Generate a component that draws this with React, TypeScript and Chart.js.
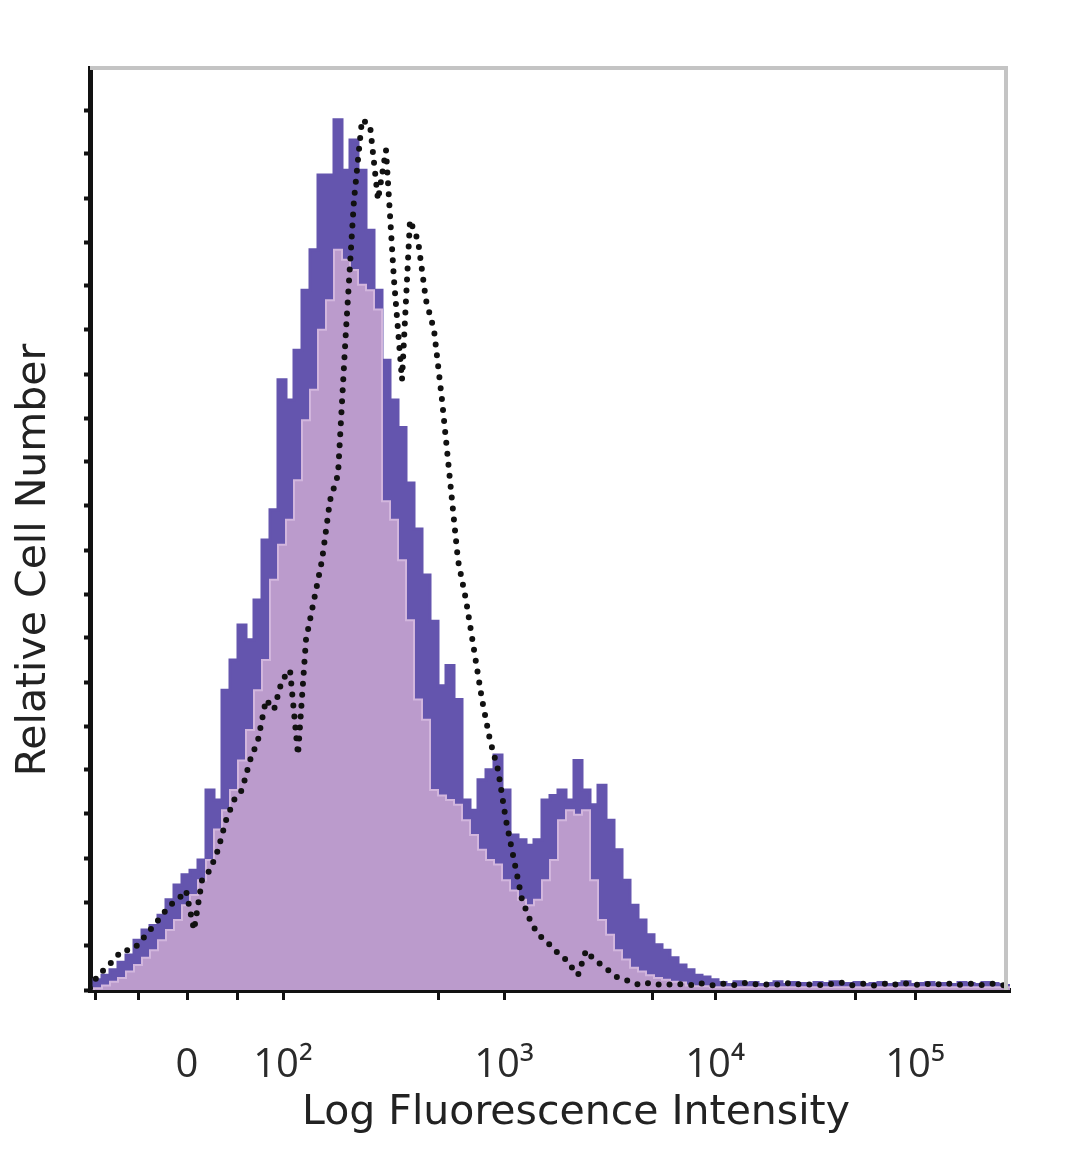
import React, { useEffect, useRef } from 'react';
import { Chart, registerables } from 'chart.js';

Chart.register(...registerables);

// Channel positions of histogram bins (display channels)
const channels = [
  0, 2, 4, 6, 8, 10, 12, 14, 16, 18,
  20, 22, 24, 26, 28, 30, 32, 34, 36, 38,
  40, 42, 44, 46, 48, 50, 52, 54, 56, 58,
  60, 62, 64, 66, 68, 70, 72, 74, 76, 78,
  80, 82, 84, 86, 88, 90, 92, 94, 96, 98,
  100, 102, 104, 106, 108, 110, 112, 114, 116, 118,
  120, 122, 124, 126, 128, 130, 132, 134, 136, 138,
  140, 142, 144, 146, 148, 150, 152, 154, 156, 158,
  160, 162, 164, 166, 168, 170, 172, 174, 176, 178,
  180, 182, 184, 186, 188, 190, 192, 194, 196, 198,
  200, 202, 204, 206, 208, 210, 212, 214, 216, 218,
  220, 222, 224, 226, 228, 230,
];

// Stained sample – outer (dark purple) outline
const stainedOuter = [
  0.2, 1.1, 1.6, 2.2, 3.0, 3.8, 5.4, 6.5, 7.0, 8.1,
  9.8, 11.4, 12.5, 13.0, 14.1, 21.7, 20.6, 32.5, 35.8, 39.6,
  38.0, 42.3, 48.8, 52.1, 66.2, 64.0, 69.4, 75.9, 80.3, 88.4,
  88.4, 94.4, 88.9, 92.2, 88.9, 82.4, 75.9, 68.3, 64.0, 61.0,
  55.0, 50.0, 45.0, 40.0, 33.0, 35.2, 31.5, 20.6, 19.5, 22.8,
  23.9, 25.5, 21.7, 16.8, 16.3, 15.7, 16.3, 20.6, 21.1, 21.7,
  20.6, 24.9, 21.7, 20.1, 22.2, 18.4, 15.2, 11.9, 9.2, 7.6,
  6.0, 4.9, 4.3, 3.5, 2.7, 2.2, 1.6, 1.4, 1.1, 0.8,
  0.6, 0.9, 0.7, 0.8, 0.6, 0.7, 0.9, 0.6, 0.8, 0.7,
  0.6, 0.8, 0.7, 0.9, 0.6, 0.7, 0.8, 0.6, 0.7, 0.8,
  0.6, 0.7, 0.9, 0.6, 0.7, 0.8, 0.6, 0.7, 0.6, 0.8,
  0.7, 0.6, 0.8, 0.7, 0.6, 0.5,
];

// Stained sample – inner (light purple) filled body
const stainedInner = [
  0, 0.2, 0.5, 0.9, 1.3, 2.0, 2.7, 3.5, 4.3, 5.4,
  6.5, 7.6, 9.2, 10.3, 11.9, 14.1, 17.4, 19.5, 21.7, 24.9,
  28.2, 32.5, 35.8, 44.5, 48.3, 51.0, 55.3, 61.8, 65.1, 71.6,
  74.8, 80.3, 79.2, 78.1, 76.5, 75.9, 73.8, 53.0, 51.0, 46.6,
  40.1, 31.5, 29.3, 21.7, 21.1, 20.6, 20.1, 18.4, 16.8, 15.2,
  14.1, 13.6, 11.9, 10.8, 9.8, 9.2, 9.8, 11.9, 14.1, 18.4,
  19.5, 19.0, 19.5, 11.9, 7.6, 6.0, 4.3, 3.3, 2.4, 2.0,
  1.6, 1.3, 1.1, 0.9, 0.8, 0.5, 0.4, 0.4, 0.3, 0.3,
  0.3, 0.3, 0.3, 0.3, 0.3, 0.3, 0.3, 0.3, 0.3, 0.3,
  0.3, 0.3, 0.3, 0.3, 0.3, 0.3, 0.3, 0.3, 0.3, 0.3,
  0.3, 0.3, 0.3, 0.3, 0.3, 0.3, 0.3, 0.3, 0.3, 0.3,
  0.3, 0.3, 0.3, 0.3, 0.3, 0.3,
];

// Isotype control – dotted black
const isotypeControl = [
  0.2, 1.6, 2.4, 3.3, 4.3, 4.3, 4.9, 6.0, 7.0, 8.1,
  9.2, 9.8, 10.8, 6.5, 11.9, 13.0, 15.2, 18.4, 20.6, 21.7,
  24.9, 27.1, 31.5, 30.4, 33.6, 34.7, 25.5, 38.0, 42.3, 46.6,
  53.1, 55.9, 71.6, 85.7, 94.4, 93.8, 85.7, 91.1, 77.0, 66.2,
  83.5, 81.3, 74.8, 71.6, 64.0, 55.3, 46.6, 42.3, 36.9, 31.5,
  27.1, 23.9, 18.4, 14.1, 9.8, 7.6, 6.0, 5.4, 4.3, 3.8,
  2.7, 1.6, 4.3, 3.3, 2.7, 2.0, 1.3, 1.1, 0.7, 0.5,
  0.8, 0.6, 0.5, 0.7, 0.6, 0.5, 0.8, 0.6, 0.5, 0.7,
  0.6, 0.5, 0.8, 0.6, 0.7, 0.5, 0.6, 0.8, 0.5, 0.7,
  0.6, 0.5, 0.7, 0.6, 0.8, 0.5, 0.6, 0.7, 0.5, 0.6,
  0.8, 0.5, 0.7, 0.6, 0.5, 0.7, 0.6, 0.8, 0.5, 0.6,
  0.7, 0.5, 0.6, 0.7, 0.5, 0.6,
];

const xTickValues = [1.25, 12, 24.25, 36.75, 48.25, 87, 103.5, 140.5, 156.25, 191.25, 206.25];
const xTickLabels = ['', '', '0', '', '10²', '', '10³', '', '10⁴', '', '10⁵'];
const yTickValues = [0, 4.8, 9.5, 14.3, 19.1, 23.9, 28.6, 33.4, 38.2, 42.9, 47.7, 52.5, 57.3, 62.0, 66.8, 71.6, 76.4, 81.1, 85.9, 90.7, 95.4];

const xTitle = 'Log Fluorescence Intensity';
const yTitle = 'Relative Cell Number';

const TICK_FONT = '"Open Sans", "DejaVu Sans", sans-serif';
const TITLE_FONT = '"DejaVu Sans", "Open Sans", sans-serif';

export default function App() {
  const ref = useRef<HTMLCanvasElement | null>(null);

  useEffect(() => {
    if (!ref.current) return;
    const toXY = (arr: number[]) => arr.map((v, i) => ({ x: channels[i], y: v }));

    const framePlugin = {
      id: 'frameAndTitles',
      afterDraw(chart: any) {
        const { ctx, chartArea } = chart;
        ctx.save();
        ctx.strokeStyle = '#c4c4c4';
        ctx.lineWidth = 4;
        ctx.beginPath();
        ctx.moveTo(chartArea.left, chartArea.top);
        ctx.lineTo(chartArea.right - 4, chartArea.top);
        ctx.lineTo(chartArea.right - 4, chartArea.bottom);
        ctx.stroke();

        ctx.fillStyle = '#222';
        ctx.font = `41px ${TITLE_FONT}`;
        ctx.textAlign = 'center';
        ctx.textBaseline = 'middle';
        ctx.fillText(xTitle, 576, 1113);
        ctx.translate(34, 560);
        ctx.rotate(-Math.PI / 2);
        ctx.fillText(yTitle, 0, 0);
        ctx.restore();
      },
    };

    const chart = new Chart(ref.current, {
      type: 'line',
      data: {
        datasets: [
          {
            label: 'Isotype control',
            data: toXY(isotypeControl),
            borderColor: '#111',
            borderWidth: 6,
            borderDash: [0, 11],
            borderCapStyle: 'round',
            borderJoinStyle: 'round',
            pointRadius: 0,
            fill: false,
            order: 0,
          },
          {
            label: 'Stained (inner)',
            data: toXY(stainedInner),
            borderColor: '#d2b6dd',
            borderWidth: 2,
            backgroundColor: '#bb9bcc',
            stepped: 'middle',
            pointRadius: 0,
            fill: 'origin',
            order: 1,
          },
          {
            label: 'Stained',
            data: toXY(stainedOuter),
            borderColor: '#6455ae',
            borderWidth: 3,
            backgroundColor: '#6455ae',
            stepped: 'middle',
            pointRadius: 0,
            fill: 'origin',
            order: 2,
          },
        ],
      },
      options: {
        animation: false,
        responsive: false,
        events: [],
        layout: { padding: { top: 68, right: 70, left: 0, bottom: 0 } },
        plugins: { legend: { display: false }, tooltip: { enabled: false } },
        scales: {
          x: {
            type: 'linear',
            min: 0,
            max: 230,
            afterFit: (s: any) => { s.height = 179; },
            afterBuildTicks: (s: any) => { s.ticks = xTickValues.map((v) => ({ value: v })); },
            ticks: {
              autoSkip: false,
              maxRotation: 0,
              padding: 42,
              color: '#2a2a2a',
              font: { family: TICK_FONT, size: 40 },
              callback: (value: any) => {
                const idx = xTickValues.indexOf(Number(value));
                return idx >= 0 ? xTickLabels[idx] : '';
              },
            },
            grid: {
              drawOnChartArea: false,
              drawTicks: true,
              tickLength: 10,
              tickWidth: 3,
              tickColor: '#111',
            },
            border: { display: true, color: '#111', width: 5 },
          },
          y: {
            type: 'linear',
            min: 0,
            max: 100,
            afterFit: (s: any) => { s.width = 90; },
            afterBuildTicks: (s: any) => { s.ticks = yTickValues.map((v) => ({ value: v })); },
            ticks: { display: true, callback: () => '', padding: 0 },
            grid: {
              drawOnChartArea: false,
              drawTicks: true,
              tickLength: 6,
              tickWidth: 4,
              tickColor: '#111',
            },
            border: { display: true, color: '#111', width: 5 },
          },
        },
      },
      plugins: [framePlugin],
    } as any);

    return () => chart.destroy();
  }, []);

  return (
    <div style={{ position: 'absolute', left: 0, top: 0, width: 1080, height: 1169, background: '#fff' }}>
      <canvas ref={ref} width={1080} height={1169} style={{ display: 'block', width: 1080, height: 1169 }} />
    </div>
  );
}
